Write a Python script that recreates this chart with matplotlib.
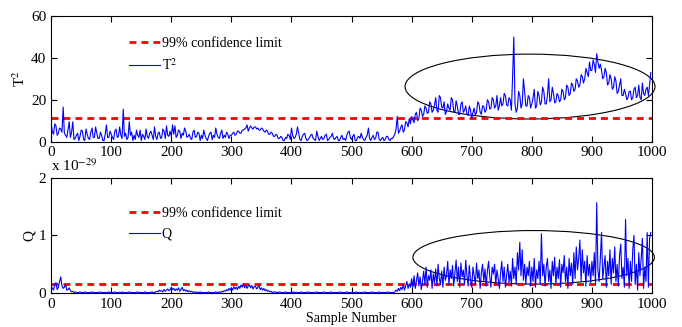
import matplotlib
matplotlib.use('Agg')
import matplotlib.pyplot as plt
from matplotlib.patches import Ellipse
import numpy as np

plt.rcParams['font.family'] = ['Liberation Serif', 'DejaVu Serif']
plt.rcParams['mathtext.fontset'] = 'stix'

# T^2 statistic, one value every 2 samples, one row per 100 samples
t2 = [
    9.0, 4.5, 3.5, 8.5, 7.5, 3.0, 4.0, 6.5, 6.0, 4.5, 16.5, 4.0, 3.0, 2.0, 5.5, 9.5, 2.0, 4.5, 9.5, 1.0,
    1.5, 3.0, 4.0, 0.5, 2.5, 5.5, 5.0, 1.0, 0.5, 6.0, 3.5, 1.5, 1.0, 4.5, 6.5, 2.0, 2.0, 7.0, 4.0, 1.5,
    1.5, 4.5, 3.0, 0.5, 0.5, 3.5, 8.0, 2.0, 2.0, 5.0,
    3.5, 2.0, 1.0, 5.0, 6.0, 2.0, 2.5, 7.0, 3.0, 1.5, 15.5, 2.5, 4.0, 1.0, 2.0, 9.5, 3.0, 4.5, 0.5, 3.0,
    1.0, 5.5, 3.0, 2.0, 5.5, 0.5, 3.5, 2.5, 1.0, 6.0, 2.5, 1.5, 4.0, 5.0, 3.0, 1.0, 7.0, 2.5, 1.0, 4.0,
    4.5, 1.5, 2.0, 6.0, 5.0, 1.5, 7.5, 3.0, 2.5, 5.0,
    2.5, 8.0, 3.5, 7.5, 2.0, 3.0, 5.5, 5.0, 1.5, 4.0, 3.0, 6.5, 5.0, 2.0, 2.5, 3.5, 1.5, 1.0, 4.5, 5.5,
    2.0, 2.5, 4.5, 4.0, 0.5, 3.0, 1.5, 5.5, 3.0, 1.5, 0.5, 2.5, 4.0, 4.5, 1.0, 3.0, 2.0, 6.5, 3.5, 2.0,
    1.5, 4.0, 5.5, 1.5, 3.0, 2.0, 4.5, 3.5, 1.5, 3.0,
    3.0, 4.0, 4.5, 3.0, 3.5, 5.0, 5.0, 4.0, 4.0, 5.5, 5.5, 6.0, 6.5, 8.0, 5.0, 6.5, 7.5, 6.5, 6.0, 7.0,
    7.0, 6.0, 6.5, 5.5, 5.5, 6.5, 6.0, 5.0, 4.5, 5.5, 5.0, 3.5, 3.5, 4.5, 4.0, 2.5, 2.5, 3.5, 3.0, 1.5,
    1.5, 2.5, 2.0, 0.5, 0.5, 2.0, 1.5, 3.5, 3.0, 1.0,
    6.5, 3.0, 1.5, 2.0, 3.5, 7.0, 4.0, 1.0, 0.5, 2.5, 3.5, 4.0, 1.5, 0.5, 1.0, 2.0, 3.0, 3.5, 1.5, 1.0,
    0.5, 5.0, 2.5, 0.5, 1.5, 2.5, 1.0, 1.5, 3.0, 3.5, 0.5, 1.0, 2.0, 2.5, 4.0, 1.5, 1.0, 2.0, 2.5, 0.5,
    0.5, 2.0, 3.0, 1.0, 1.5, 0.5, 3.0, 4.5, 5.0, 2.0,
    1.0, 2.5, 3.5, 0.5, 0.5, 2.0, 2.5, 1.5, 4.0, 2.0, 1.0, 0.5, 2.0, 3.0, 6.5, 1.5, 0.5, 2.0, 3.0, 1.0,
    1.5, 4.5, 4.5, 1.0, 0.5, 1.5, 2.0, 0.5, 1.0, 2.5, 2.5, 1.0, 0.5, 1.5, 1.5, 2.5, 3.5, 6.0, 12.0, 4.0,
    5.0, 7.0, 8.0, 4.5, 5.5, 9.5, 9.0, 7.0, 11.0, 8.5,
    12.0, 10.5, 9.0, 13.0, 14.0, 10.0, 11.0, 16.0, 15.0, 12.0, 13.0, 17.0, 16.0, 13.5, 14.0, 19.0, 18.0, 14.0, 15.0, 17.5,
    21.0, 15.0, 14.0, 22.0, 21.0, 16.5, 16.0, 19.0, 13.0, 14.5, 18.0, 16.0, 15.0, 21.0, 20.0, 14.5, 14.0, 19.5, 17.0, 13.0,
    13.0, 18.0, 19.0, 14.0, 15.0, 17.0, 13.0, 12.5, 17.0, 15.0,
    11.0, 14.0, 16.0, 12.5, 14.0, 19.0, 18.0, 14.0, 13.0, 17.0, 17.0, 14.0, 15.0, 20.0, 19.0, 15.5, 16.0, 21.0, 20.0, 16.0,
    17.0, 22.0, 15.0, 17.0, 21.0, 17.0, 18.0, 23.0, 22.0, 17.5, 17.0, 21.0, 20.0, 15.0, 31.0, 50.0, 18.0, 14.0, 16.0, 24.0,
    22.0, 16.0, 18.0, 30.0, 24.0, 17.0, 17.0, 22.0, 21.0, 16.0,
    18.0, 21.0, 25.0, 16.0, 17.0, 24.0, 22.0, 17.5, 19.0, 26.0, 24.0, 18.0, 18.0, 22.0, 30.0, 19.0, 20.0, 26.0, 23.0, 18.5,
    19.0, 23.0, 22.0, 19.0, 20.0, 25.0, 24.0, 20.0, 21.0, 27.0, 26.0, 22.0, 23.0, 28.0, 27.0, 24.0, 25.0, 30.0, 29.0, 26.0,
    27.0, 32.0, 31.0, 28.0, 30.0, 35.0, 33.0, 31.0, 38.0, 34.0,
    34.0, 39.0, 37.0, 33.0, 42.0, 38.0, 35.0, 37.0, 34.0, 30.0, 31.0, 35.0, 33.0, 27.0, 28.0, 32.0, 30.0, 25.0, 26.0, 31.0,
    29.0, 23.0, 24.0, 27.0, 30.0, 22.0, 22.0, 25.0, 23.0, 20.0, 21.0, 24.0, 24.0, 20.0, 21.0, 25.0, 26.0, 21.0, 22.0, 27.0,
    21.0, 20.0, 28.0, 23.0, 22.0, 25.0, 26.0, 22.0, 27.0, 33.0,
]

# Q statistic (x 1e-29), one value every 2 samples
q = [
    0.12, 0.08, 0.05, 0.15, 0.18, 0.06, 0.10, 0.20, 0.28, 0.12, 0.08, 0.10, 0.15, 0.05, 0.06, 0.09, 0.04, 0.02, 0.03, 0.01,
    0.02, 0.01, 0.005, 0.01, 0.02, 0.005, 0.01, 0.005, 0.02, 0.01, 0.005, 0.01, 0.005, 0.01, 0.02, 0.005, 0.01, 0.005, 0.01, 0.005,
    0.01, 0.02, 0.005, 0.01, 0.005, 0.01, 0.005, 0.01, 0.02, 0.005,
    0.01, 0.005, 0.01, 0.02, 0.005, 0.01, 0.005, 0.01, 0.005, 0.02, 0.01, 0.005, 0.01, 0.005, 0.01, 0.02, 0.005, 0.01, 0.005, 0.01,
    0.005, 0.01, 0.02, 0.005, 0.01, 0.005, 0.01, 0.005, 0.02, 0.01, 0.005, 0.01, 0.005, 0.01, 0.02, 0.005, 0.01, 0.02, 0.03, 0.02,
    0.05, 0.03, 0.04, 0.02, 0.06, 0.03, 0.05, 0.07, 0.04, 0.06,
    0.10, 0.06, 0.08, 0.04, 0.07, 0.05, 0.09, 0.03, 0.06, 0.10, 0.04, 0.06, 0.03, 0.05, 0.02, 0.04, 0.02, 0.03, 0.01, 0.02,
    0.01, 0.02, 0.005, 0.01, 0.02, 0.005, 0.01, 0.005, 0.01, 0.005, 0.01, 0.02, 0.005, 0.01, 0.005, 0.01, 0.005, 0.02, 0.01, 0.005,
    0.02, 0.01, 0.03, 0.02, 0.04, 0.03, 0.06, 0.04, 0.08, 0.05,
    0.09, 0.05, 0.11, 0.07, 0.10, 0.06, 0.12, 0.08, 0.14, 0.10, 0.16, 0.09, 0.13, 0.08, 0.12, 0.14, 0.09, 0.13, 0.07, 0.11,
    0.12, 0.07, 0.10, 0.13, 0.06, 0.09, 0.05, 0.08, 0.04, 0.06, 0.03, 0.04, 0.02, 0.03, 0.01, 0.02, 0.01, 0.02, 0.005, 0.01,
    0.02, 0.005, 0.01, 0.005, 0.01, 0.02, 0.005, 0.01, 0.005, 0.01,
    0.005, 0.01, 0.02, 0.005, 0.01, 0.005, 0.01, 0.005, 0.02, 0.01, 0.005, 0.01, 0.005, 0.01, 0.02, 0.005, 0.01, 0.005, 0.01, 0.005,
    0.01, 0.02, 0.005, 0.01, 0.005, 0.01, 0.005, 0.02, 0.01, 0.005, 0.01, 0.005, 0.01, 0.02, 0.005, 0.01, 0.005, 0.01, 0.005, 0.01,
    0.02, 0.005, 0.01, 0.005, 0.01, 0.005, 0.02, 0.01, 0.005, 0.01,
    0.005, 0.01, 0.005, 0.01, 0.02, 0.005, 0.01, 0.005, 0.01, 0.005, 0.01, 0.02, 0.005, 0.01, 0.005, 0.01, 0.005, 0.02, 0.01, 0.005,
    0.01, 0.005, 0.01, 0.02, 0.005, 0.01, 0.005, 0.01, 0.005, 0.01, 0.02, 0.005, 0.01, 0.005, 0.01, 0.005, 0.02, 0.05, 0.03, 0.08,
    0.04, 0.10, 0.06, 0.15, 0.05, 0.12, 0.20, 0.08, 0.16, 0.10,
    0.25, 0.10, 0.30, 0.08, 0.22, 0.35, 0.12, 0.28, 0.06, 0.20, 0.38, 0.15, 0.45, 0.10, 0.30, 0.22, 0.40, 0.08, 0.33, 0.18,
    0.42, 0.12, 0.50, 0.25, 0.15, 0.38, 0.10, 0.45, 0.22, 0.30, 0.55, 0.15, 0.40, 0.25, 0.48, 0.12, 0.35, 0.57, 0.20, 0.45,
    0.10, 0.52, 0.28, 0.40, 0.15, 0.57, 0.30, 0.12, 0.48, 0.22,
    0.10, 0.45, 0.30, 0.15, 0.52, 0.25, 0.40, 0.08, 0.35, 0.50, 0.20, 0.42, 0.12, 0.38, 0.55, 0.28, 0.10, 0.45, 0.33, 0.50,
    0.15, 0.40, 0.25, 0.08, 0.35, 0.55, 0.20, 0.45, 0.10, 0.30, 0.50, 0.18, 0.38, 0.12, 0.60, 0.25, 0.45, 0.15, 0.70, 0.40,
    0.88, 0.30, 0.75, 0.22, 0.50, 0.15, 0.45, 0.30, 0.55, 0.12,
    0.45, 0.20, 0.60, 0.10, 0.40, 0.25, 0.55, 0.15, 1.03, 0.30, 0.50, 0.12, 0.45, 0.60, 0.20, 0.40, 0.08, 0.55, 0.30, 0.62,
    0.15, 0.45, 0.25, 0.58, 0.10, 0.50, 0.35, 0.65, 0.20, 0.45, 0.08, 0.60, 0.30, 0.52, 0.15, 0.70, 0.25, 0.80, 0.40, 0.60,
    0.92, 0.20, 0.75, 0.35, 0.55, 0.12, 0.65, 0.30, 0.50, 0.18,
    0.55, 0.30, 0.70, 0.15, 1.57, 0.40, 0.20, 0.60, 1.05, 0.25, 0.45, 0.65, 0.10, 0.55, 0.30, 0.75, 0.15, 0.60, 0.35, 0.80,
    0.20, 0.50, 0.12, 0.65, 0.85, 0.25, 0.45, 0.10, 1.28, 0.30, 0.60, 0.08, 0.55, 0.20, 0.75, 1.00, 0.15, 0.50, 0.05, 0.70,
    0.30, 0.60, 0.95, 0.08, 0.45, 0.20, 1.05, 0.10, 0.95, 1.05,
]

t2_samples = np.arange(len(t2)) * 2
q_samples = np.arange(len(q)) * 2
t2_limit = 11.4
q_limit = 0.16

fig = plt.figure(figsize=(6.82, 3.27), dpi=100)
ax1 = fig.add_axes([0.075, 0.567, 0.881, 0.384])
ax2 = fig.add_axes([0.075, 0.104, 0.881, 0.352])

for ax in (ax1, ax2):
    ax.tick_params(direction='in', top=True, right=True, length=4, labelsize=11, width=0.8)
    ax.set_xlim(0, 1000)
    ax.set_xticks(range(0, 1001, 100))

ax1.plot([0, 1000], [t2_limit, t2_limit], 'r--', lw=2, dashes=(2.5, 1.8), label='99% confidence limit')
ax1.plot(t2_samples, t2, color='blue', lw=0.8, label='T$^2$')
ax1.set_ylim(0, 60)
ax1.set_yticks([0, 20, 40, 60])
ax1.set_ylabel('T$^2$', fontsize=11, labelpad=2)
ax1.add_patch(Ellipse((797, 26.3), 416, 31, fill=False, color='black', lw=0.8, clip_on=False))
ax1.legend(loc='upper left', bbox_to_anchor=(0.108, 0.93), frameon=False, fontsize=10,
           handlelength=2.3, handletextpad=0.1, labelspacing=0.5)

ax2.plot([0, 1000], [q_limit, q_limit], 'r--', lw=2, dashes=(2.5, 1.8), label='99% confidence limit')
ax2.plot(q_samples, q, color='blue', lw=0.8, label='Q')
ax2.set_ylim(0, 2)
ax2.set_yticks([0, 1, 2])
ax2.set_ylabel('Q', fontsize=11, labelpad=2)
ax2.add_patch(Ellipse((803, 0.62), 402, 0.93, fill=False, color='black', lw=0.8, clip_on=False))
ax2.legend(loc='upper left', bbox_to_anchor=(0.108, 0.86), frameon=False, fontsize=10,
           handlelength=2.3, handletextpad=0.1, labelspacing=0.6)
ax2.set_xlabel('Sample Number', fontsize=10, labelpad=1)
fig.text(0.075, 0.468, 'x 10$^{-29}$', fontsize=11, ha='left', va='bottom')

fig.savefig('out.png', dpi=100)
